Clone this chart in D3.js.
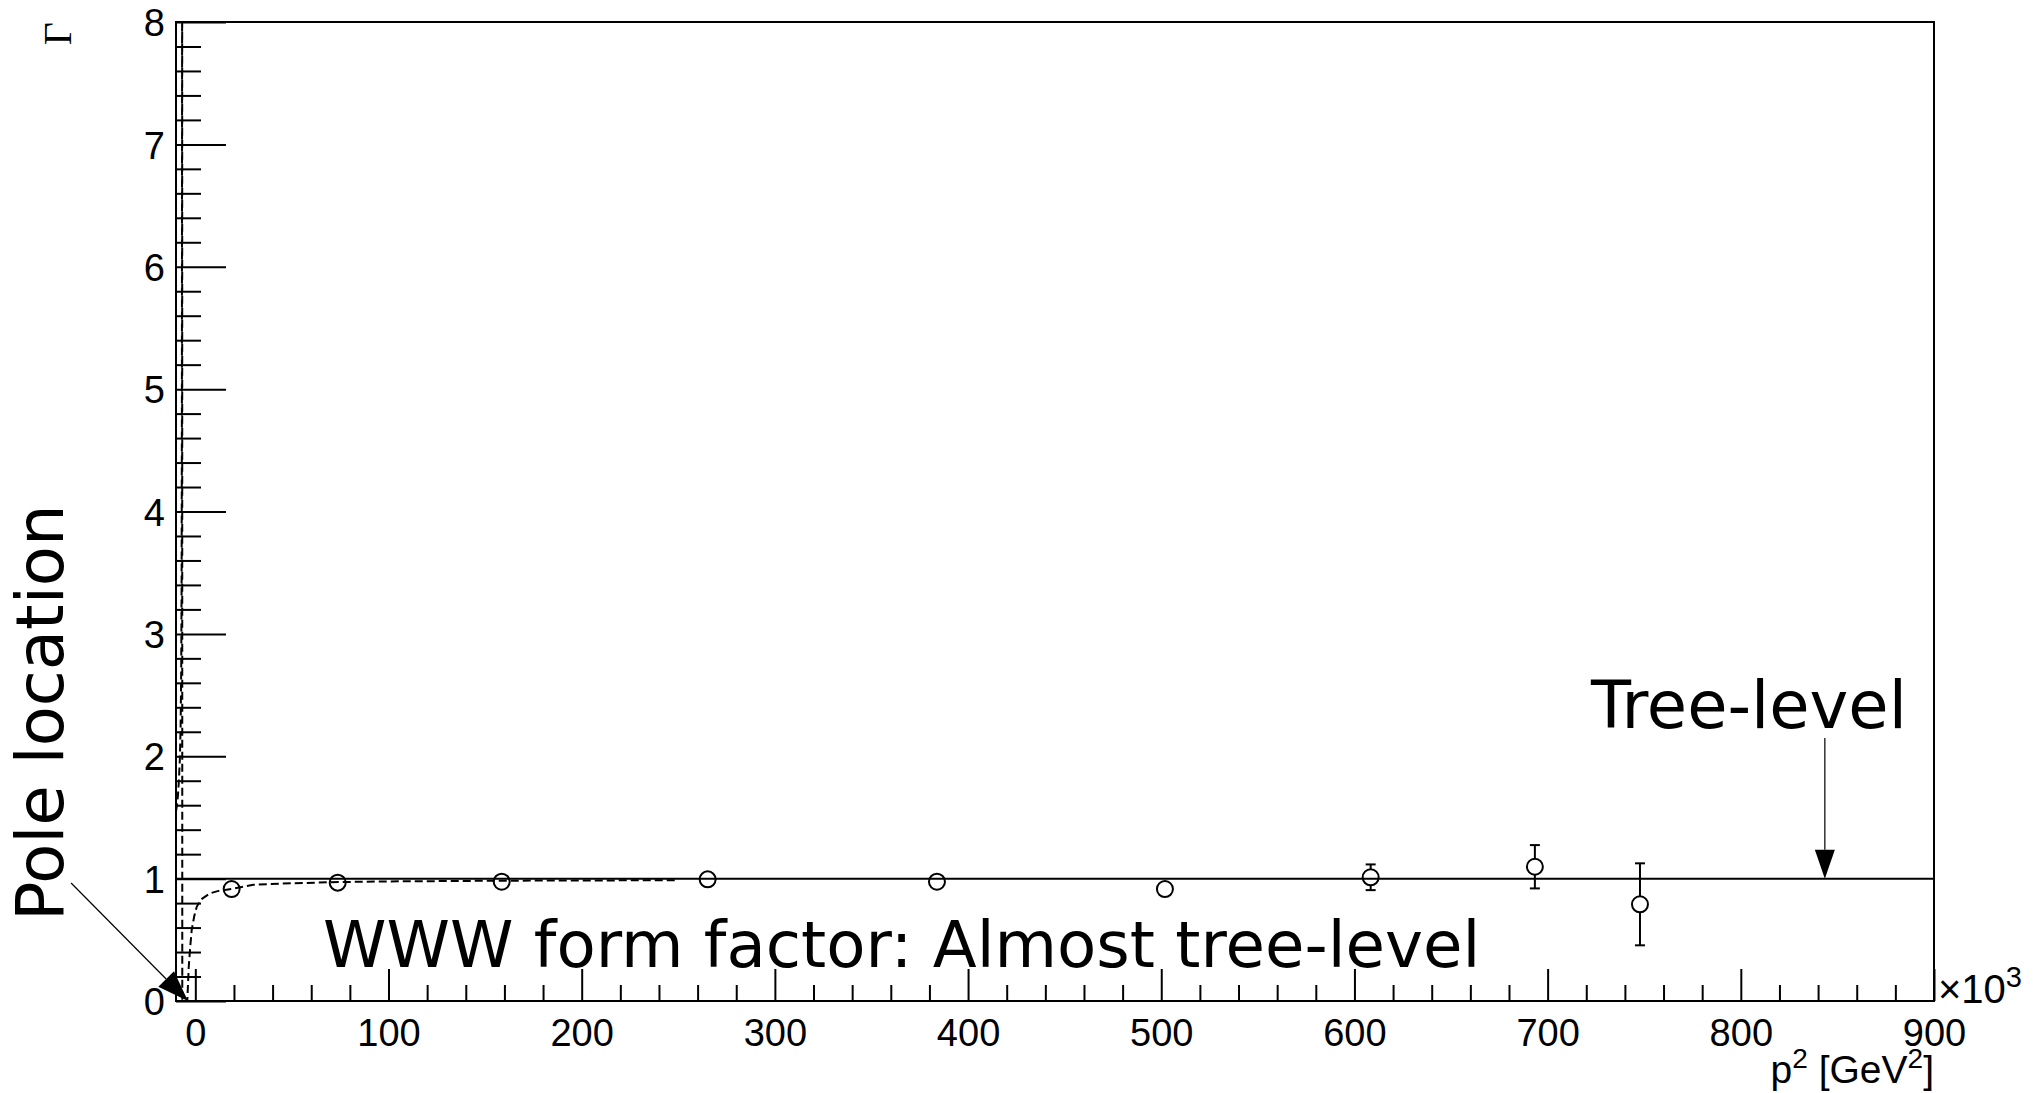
<!DOCTYPE html>
<html>
<head>
<meta charset="utf-8">
<script src="https://cdn.jsdelivr.net/npm/d3@7"></script>
<style>
  html, body { margin: 0; padding: 0; background: #fff; }
  svg { display: block; }
</style>
</head>
<body>
<svg id="chart" width="2036" height="1093"></svg>
<script>
// Lattice data: WWW vertex form factor Gamma versus p^2 (in units of 10^3 GeV^2)
const pSquared = [18.8, 73.7, 158.6, 265.2, 383.9, 501.9, 608.4, 693.4, 747.8];
const gammaVal = [0.915, 0.967, 0.975, 0.994, 0.975, 0.915, 1.011, 1.097, 0.790];
const gammaErr = [0.02, 0.02, 0.02, 0.02, 0.02, 0.02, 0.105, 0.177, 0.335];

// Pole fit curve (dashed), sampled along both branches of the pole
const fitP = [-10, -9.5, -9, -8.5, -8, -7.6, -7.3, -7.1, -6.95, -6.8,
              -6.7, -6.3, -5.6, -4.9, -4.15, -3.4, -2.6, -1.87, -0.6, 0.72,
              3, 7.6, 12, 18.8, 30, 50, 74, 100, 158, 200, 250];
const fitG = [1.55, 1.6, 1.68, 1.8, 1.98, 2.25, 2.7, 3.4, 4.8, 9,
              -9, -4, -1.5, -0.5, 0, 0.28, 0.45, 0.58, 0.69, 0.77,
              0.83, 0.88, 0.9, 0.915, 0.95, 0.962, 0.972, 0.977, 0.983, 0.985, 0.987];

// Tree-level value
const treeLevel = 1;

// Axis ticks and labels
const xTicks = [0, 100, 200, 300, 400, 500, 600, 700, 800, 900];
const xTickLabels = ["0", "100", "200", "300", "400", "500", "600", "700", "800", "900"];
const yTicks = [0, 1, 2, 3, 4, 5, 6, 7, 8];
const yTickLabels = ["0", "1", "2", "3", "4", "5", "6", "7", "8"];

const svg = d3.select("#chart");
svg.append("rect").attr("width", 2036).attr("height", 1093).attr("fill", "#fff");

const x = d3.scaleLinear().domain([-10, 900]).range([176, 1934]);
const y = d3.scaleLinear().domain([0, 8]).range([1001, 22]);

const tickFont = "'Liberation Sans', Arial, Helvetica, sans-serif";
const bigFont = "'DejaVu Sans', Verdana, sans-serif";

// Minor ticks
const xMinor = d3.range(20, 900, 20).filter(v => v % 100 !== 0);
const yMinor = d3.range(0.2, 8, 0.2).filter(v => Math.abs(v - Math.round(v)) > 1e-6);

function styleAxis(g) {
  g.select(".domain").remove();
  g.selectAll(".tick line").attr("stroke", "#000").attr("stroke-width", 2);
  g.selectAll("text").attr("fill", "#000").style("font-family", tickFont);
}

// X axis (ticks point into the frame)
svg.append("g").attr("transform", `translate(0,${y(0)})`)
  .call(d3.axisBottom(x).tickValues(xMinor).tickSize(-16).tickFormat(""))
  .call(styleAxis);
svg.append("g").attr("transform", `translate(0,${y(0)})`)
  .call(d3.axisBottom(x).tickValues(xTicks).tickSize(-32).tickPadding(18)
    .tickFormat((d, i) => xTickLabels[i]))
  .call(styleAxis)
  .call(g => g.selectAll("text").style("font-size", "38px"));

// Y axis
svg.append("g").attr("transform", `translate(${x(-10)},0)`)
  .call(d3.axisLeft(y).tickValues(yMinor).tickSize(-25).tickFormat(""))
  .call(styleAxis);
svg.append("g").attr("transform", `translate(${x(-10)},0)`)
  .call(d3.axisLeft(y).tickValues(yTicks).tickSize(-50).tickPadding(11)
    .tickFormat((d, i) => yTickLabels[i]))
  .call(styleAxis)
  .call(g => g.selectAll("text").style("font-size", "38px").attr("dy", "0.36em"));

// Frame
svg.append("rect")
  .attr("x", x(-10)).attr("y", y(8))
  .attr("width", x(900) - x(-10)).attr("height", y(0) - y(8))
  .attr("fill", "none").attr("stroke", "#000").attr("stroke-width", 2);

// Clip for curves
svg.append("defs").append("clipPath").attr("id", "plotClip")
  .append("rect")
  .attr("x", x(-10)).attr("y", y(8))
  .attr("width", x(900) - x(-10)).attr("height", y(0) - y(8));

// Fit curve
const fitData = fitP.map((p, i) => [p, fitG[i]]);
svg.append("path")
  .datum(fitData)
  .attr("clip-path", "url(#plotClip)")
  .attr("d", d3.line().x(d => x(d[0])).y(d => y(d[1])))
  .attr("fill", "none").attr("stroke", "#000").attr("stroke-width", 2)
  .attr("stroke-dasharray", "8,4");

// Tree-level line
svg.append("line")
  .attr("x1", x(-10)).attr("x2", x(900))
  .attr("y1", y(treeLevel)).attr("y2", y(treeLevel))
  .attr("stroke", "#000").attr("stroke-width", 2);

// Data points with error bars
const pts = pSquared.map((p, i) => ({ p, g: gammaVal[i], e: gammaErr[i] }));
const r = 8;
const capW = 5;
const ptG = svg.append("g");
pts.forEach(d => {
  const cx = x(d.p), cy = y(d.g);
  const top = y(d.g + d.e), bot = y(d.g - d.e);
  if (cy - top > r) {
    ptG.append("line").attr("x1", cx).attr("x2", cx).attr("y1", top).attr("y2", cy - r)
      .attr("stroke", "#000").attr("stroke-width", 2);
    ptG.append("line").attr("x1", cx - capW).attr("x2", cx + capW).attr("y1", top).attr("y2", top)
      .attr("stroke", "#000").attr("stroke-width", 2);
  }
  if (bot - cy > r) {
    ptG.append("line").attr("x1", cx).attr("x2", cx).attr("y1", cy + r).attr("y2", bot)
      .attr("stroke", "#000").attr("stroke-width", 2);
    ptG.append("line").attr("x1", cx - capW).attr("x2", cx + capW).attr("y1", bot).attr("y2", bot)
      .attr("stroke", "#000").attr("stroke-width", 2);
  }
  ptG.append("circle").attr("cx", cx).attr("cy", cy).attr("r", r)
    .attr("fill", "none").attr("stroke", "#000").attr("stroke-width", 2);
});

// Arrow helper: thin shaft with filled triangular head
function arrow(x1, y1, x2, y2, headLen, headHalf) {
  const dx = x2 - x1, dy = y2 - y1;
  const L = Math.hypot(dx, dy);
  const ux = dx / L, uy = dy / L;
  const bx = x2 - ux * headLen, by = y2 - uy * headLen;
  svg.append("line").attr("x1", x1).attr("y1", y1).attr("x2", bx).attr("y2", by)
    .attr("stroke", "#000").attr("stroke-width", 1.2);
  svg.append("path")
    .attr("d", `M${x2},${y2}L${bx - uy * headHalf},${by + ux * headHalf}L${bx + uy * headHalf},${by - ux * headHalf}Z`)
    .attr("fill", "#000");
}

// Pole location annotation
const poleArrow = { fromP: -64.3, fromG: 0.964, toP: -3.8, toG: 0 };
arrow(x(poleArrow.fromP), y(poleArrow.fromG), x(poleArrow.toP), y(poleArrow.toG), 31, 11);
svg.append("text")
  .attr("transform", "translate(63,921) rotate(-90)")
  .style("font-family", bigFont).style("font-size", "65.5px")
  .attr("fill", "#000")
  .text("Pole location");

// Tree-level annotation
const treeArrow = { p: 843.5, fromG: 2.15 };
arrow(x(treeArrow.p), y(treeArrow.fromG), x(treeArrow.p), y(treeLevel), 29, 10);
svg.append("text")
  .attr("x", 1591).attr("y", 728)
  .style("font-family", bigFont).style("font-size", "65.5px")
  .attr("fill", "#000")
  .text("Tree-level");

svg.append("text")
  .attr("x", 323).attr("y", 967)
  .style("font-family", bigFont).style("font-size", "64.2px")
  .attr("fill", "#000")
  .text("WWW form factor: Almost tree-level");

// Axis exponent
const expo = svg.append("text")
  .attr("x", 1938).attr("y", 1003)
  .style("font-family", tickFont).style("font-size", "40px")
  .attr("fill", "#000");
expo.append("tspan").text("\u00d710");
expo.append("tspan").attr("dy", -16).style("font-size", "29px").text("3");

// Axis titles
const xt = svg.append("text")
  .attr("x", 1934).attr("y", 1083)
  .attr("text-anchor", "end")
  .style("font-family", tickFont).style("font-size", "39px")
  .attr("fill", "#000");
xt.append("tspan").text("p");
xt.append("tspan").attr("dy", -15).style("font-size", "28px").text("2");
xt.append("tspan").attr("dy", 15).text(" [GeV");
xt.append("tspan").attr("dy", -15).style("font-size", "28px").text("2");
xt.append("tspan").attr("dy", 15).text("]");

svg.append("text")
  .attr("transform", "translate(71,22) rotate(-90)")
  .attr("text-anchor", "end")
  .style("font-family", "'Liberation Serif', 'DejaVu Serif', serif").style("font-size", "40px")
  .attr("fill", "#000")
  .text("\u0393");
</script>
</body>
</html>
